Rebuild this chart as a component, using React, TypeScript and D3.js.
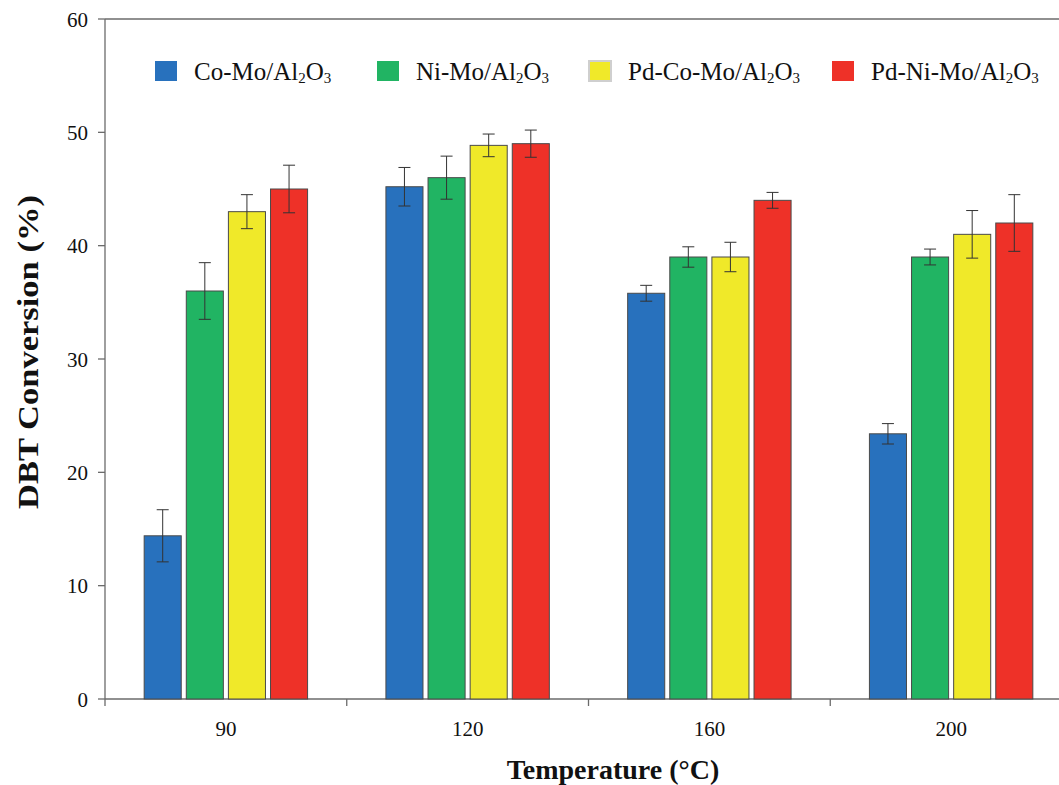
import React from 'react';
import * as d3 from 'd3';

const temps = ['90', '120', '160', '200'];
const seriesNames = ['Co-Mo', 'Ni-Mo', 'Pd-Co-Mo', 'Pd-Ni-Mo'];
const coMo = [14.4, 45.2, 35.8, 23.4];
const coMoErr = [2.3, 1.7, 0.7, 0.9];
const niMo = [36, 46, 39, 39];
const niMoErr = [2.5, 1.9, 0.9, 0.7];
const pdCoMo = [43, 48.85, 39, 41];
const pdCoMoErr = [1.5, 1.0, 1.3, 2.1];
const pdNiMo = [45, 49, 44, 42];
const pdNiMoErr = [2.1, 1.2, 0.7, 2.5];
const yTicks = [0, 10, 20, 30, 40, 50, 60];

const colors = ['#2871bd', '#21b463', '#f0e929', '#ee3128'];
const values = [coMo, niMo, pdCoMo, pdNiMo];
const errors = [coMoErr, niMoErr, pdCoMoErr, pdNiMoErr];

const W = 1059, H = 785;
const margin = { left: 105, top: 19, bottom: 86 };
const font = '"Liberation Serif", "Times New Roman", serif';

export default function App() {
  const x = d3.scaleBand().domain(temps).range([margin.left, 1072]).paddingInner(0).paddingOuter(0);
  const inner = d3.scaleBand().domain(seriesNames).range([0, x.bandwidth()]).paddingInner(0.12).paddingOuter(0.93);
  const y = d3.scaleLinear().domain([0, 60]).range([H - margin.bottom, margin.top]);
  const axisColor = '#6b6b6b';
  const y0 = y(0);
  const boundaries = temps.map((t) => x(t)!).concat([x(temps[3])! + x.bandwidth()]);
  const legendX = [155, 377, 589, 832];

  return (
    <svg width={W} height={H} style={{ position: 'absolute', left: 0, top: 0, background: '#fff' }} fontFamily={font}>
      {/* frame */}
      <line x1={margin.left} x2={1072} y1={margin.top} y2={margin.top} stroke={axisColor} strokeWidth={1.3} />
      <line x1={margin.left} x2={margin.left} y1={margin.top} y2={y0} stroke={axisColor} strokeWidth={1.3} />
      <line x1={margin.left} x2={1072} y1={y0} y2={y0} stroke={axisColor} strokeWidth={1.3} />

      {/* y ticks */}
      {yTicks.map((t) => (
        <g key={t}>
          <line x1={margin.left - 7} x2={margin.left} y1={y(t)} y2={y(t)} stroke={axisColor} strokeWidth={1.3} />
          <text x={88} y={y(t)} dy="0.36em" textAnchor="end" fontSize={21} fill="#111">{t}</text>
        </g>
      ))}

      {/* x ticks */}
      {boundaries.map((b, i) => (
        <line key={i} x1={b} x2={b} y1={y0} y2={y0 + 7} stroke={axisColor} strokeWidth={1.3} />
      ))}
      {temps.map((t) => (
        <text key={t} x={x(t)! + x.bandwidth() / 2} y={736} textAnchor="middle" fontSize={21} fill="#111">{t}</text>
      ))}

      {/* bars */}
      {seriesNames.map((s, si) => (
        <g key={s}>
          {temps.map((t, ti) => {
            const bx = x(t)! + inner(s)!;
            const v = values[si][ti];
            const e = errors[si][ti];
            const cx = bx + inner.bandwidth() / 2;
            return (
              <g key={t}>
                <rect x={bx} y={y(v)} width={inner.bandwidth()} height={y0 - y(v)} fill={colors[si]} stroke="#4a4a4a" strokeWidth={1} />
                <line x1={cx} x2={cx} y1={y(v + e)} y2={y(v - e)} stroke="#333" strokeWidth={1} />
                <line x1={cx - 6} x2={cx + 6} y1={y(v + e)} y2={y(v + e)} stroke="#333" strokeWidth={1} />
                <line x1={cx - 6} x2={cx + 6} y1={y(v - e)} y2={y(v - e)} stroke="#333" strokeWidth={1} />
              </g>
            );
          })}
        </g>
      ))}

      {/* legend */}
      {seriesNames.map((s, i) => (
        <g key={s}>
          <rect x={legendX[i]} y={61} width={22} height={20} fill={colors[i]}
            stroke={i === 2 ? '#cfcfcf' : 'none'} strokeWidth={2} />
          <text x={legendX[i] + 39} y={80} fontSize={25} fill="#111">
            {s}/Al<tspan fontSize={15} dy={3}>2</tspan><tspan dy={-3}>O</tspan><tspan fontSize={15} dy={3}>3</tspan>
          </text>
        </g>
      ))}

      {/* axis titles */}
      <text x={613} y={779} textAnchor="middle" fontSize={28} fontWeight="bold" fill="#111">Temperature (°C)</text>
      <text transform={`translate(38,352) rotate(-90)`} textAnchor="middle" fontSize={29} fontWeight="bold" fill="#111"
        textLength={314} lengthAdjust="spacingAndGlyphs">DBT Conversion (%)</text>
    </svg>
  );
}
